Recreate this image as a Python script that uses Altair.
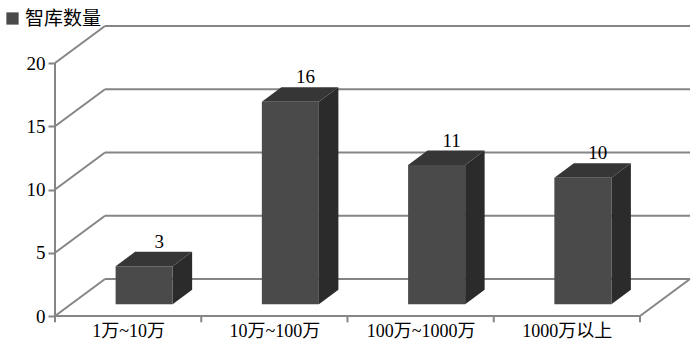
import altair as alt
import pandas as pd

# ---- data ----
categories = ["1万~10万", "10万~100万", "100万~1000万", "1000万以上"]
values = [3, 16, 11, 10]
y_ticks = [0, 5, 10, 15, 20]
series_name = "智库数量"

# ---- pseudo-3D geometry (in scale units) ----
DX = 50 / 146.2      # wall depth, x units (category widths)
DY = 2.925           # wall depth, y units (value units)
F0, F1 = 0.32, 0.71  # bar front / back depth fractions
HALF = 0.195         # half bar width in category units
XMAX = len(categories) + DX
YMAX = max(y_ticks) + DY

SERIF = "Liberation Serif, Noto Sans CJK SC"
GRID = "#858585"

xs = alt.Scale(domain=[0, XMAX], nice=False, zero=False)
ys = alt.Scale(domain=[0, YMAX], nice=False, zero=False)
label_js = "[" + ",".join("'%s'" % c for c in categories) + "]"
X_AXIS = alt.Axis(values=[i + 0.5 for i in range(len(categories))], ticks=False, domain=False,
                  grid=False, title=None, labelExpr=label_js + "[floor(datum.value)]",
                  labelFont=SERIF, labelFontSize=18, labelColor="#000", labelPadding=6)
Y_AXIS = alt.Axis(values=y_ticks, domain=False, grid=False, title=None, tickSize=7,
                  tickColor=GRID, tickWidth=2, labelFont=SERIF, labelFontSize=19,
                  labelColor="#000", labelPadding=3)

# wall / floor / axis lines
segs = []
for v in y_ticks:
    segs.append((0, v, DX, v + DY))
    segs.append((DX, v + DY, len(categories) + DX, v + DY))
segs.append((0, 0, 0, max(y_ticks)))
segs.append((0, 0, len(categories), 0))
segs.append((len(categories), 0, len(categories) + DX, DY))
for i in range(len(categories) + 1):
    segs.append((i, 0, i, -0.5))
walls = pd.DataFrame(segs, columns=["x", "y", "x2", "y2"])

front_rows, side_rows, top_rows, lab_rows = [], [], [], []
for i, (c, v) in enumerate(zip(categories, values)):
    cx = i + 0.5
    xl0 = cx - HALF + F0 * DX
    xr0 = cx + HALF + F0 * DX
    sh = (F1 - F0) * DX
    front_rows.append(dict(cat=c, x=xl0, x2=xr0, y=F0 * DY, y2=v + F0 * DY, s=series_name))
    side_rows.append(dict(cat=c, x=xr0, y=F0 * DY, y2=v + F0 * DY))
    side_rows.append(dict(cat=c, x=xr0 + sh, y=F1 * DY, y2=v + F1 * DY))
    top_rows.append(dict(cat=c, y=v + F0 * DY, x=xl0, x2=xr0))
    top_rows.append(dict(cat=c, y=v + F1 * DY, x=xl0 + sh, x2=xr0 + sh))
    lab_rows.append(dict(cat=c, x=cx + 0.62 * DX, y=v + F1 * DY, t=str(v)))

wall_layer = alt.Chart(walls).mark_rule(color=GRID, strokeWidth=2).encode(
    x=alt.X("x:Q", scale=xs, axis=X_AXIS), y=alt.Y("y:Q", scale=ys, axis=Y_AXIS),
    x2="x2:Q", y2="y2:Q")

front = alt.Chart(pd.DataFrame(front_rows)).mark_rect().encode(
    x=alt.X("x:Q", scale=xs, axis=X_AXIS), x2="x2:Q",
    y=alt.Y("y:Q", scale=ys, axis=Y_AXIS), y2="y2:Q",
    color=alt.Color("s:N", scale=alt.Scale(range=["#4a4a4a"]),
                    legend=alt.Legend(orient="none", legendX=-52, legendY=-17, title=None,
                                      symbolType="square", symbolSize=150, symbolStrokeWidth=0,
                                      labelFont=SERIF, labelFontSize=19, labelColor="#000",
                                      padding=0, labelOffset=3)))

side = alt.Chart(pd.DataFrame(side_rows)).mark_area(color="#2b2b2b").encode(
    x=alt.X("x:Q", scale=xs, axis=X_AXIS), y=alt.Y("y:Q", scale=ys, axis=Y_AXIS),
    y2="y2:Q", detail="cat:N")

top = alt.Chart(pd.DataFrame(top_rows)).mark_area(orient="horizontal", color="#363636").encode(
    y=alt.Y("y:Q", scale=ys, axis=Y_AXIS), x=alt.X("x:Q", scale=xs, axis=X_AXIS),
    x2="x2:Q", detail="cat:N")

labels = alt.Chart(pd.DataFrame(lab_rows)).mark_text(
    font=SERIF, fontSize=19, baseline="alphabetic", dy=-4, color="#000").encode(
    x=alt.X("x:Q", scale=xs, axis=X_AXIS), y=alt.Y("y:Q", scale=ys, axis=Y_AXIS), text="t:N")

chart = alt.layer(wall_layer, side, top, front, labels).properties(
    width=635, height=290,
    autosize=alt.AutoSizeParams(type="none"),
    padding={"left": 55, "top": 26, "right": 10, "bottom": 38},
    background="white",
).configure_view(stroke=None)

chart.save("out.html", embed_options={"renderer": "svg", "actions": False})
